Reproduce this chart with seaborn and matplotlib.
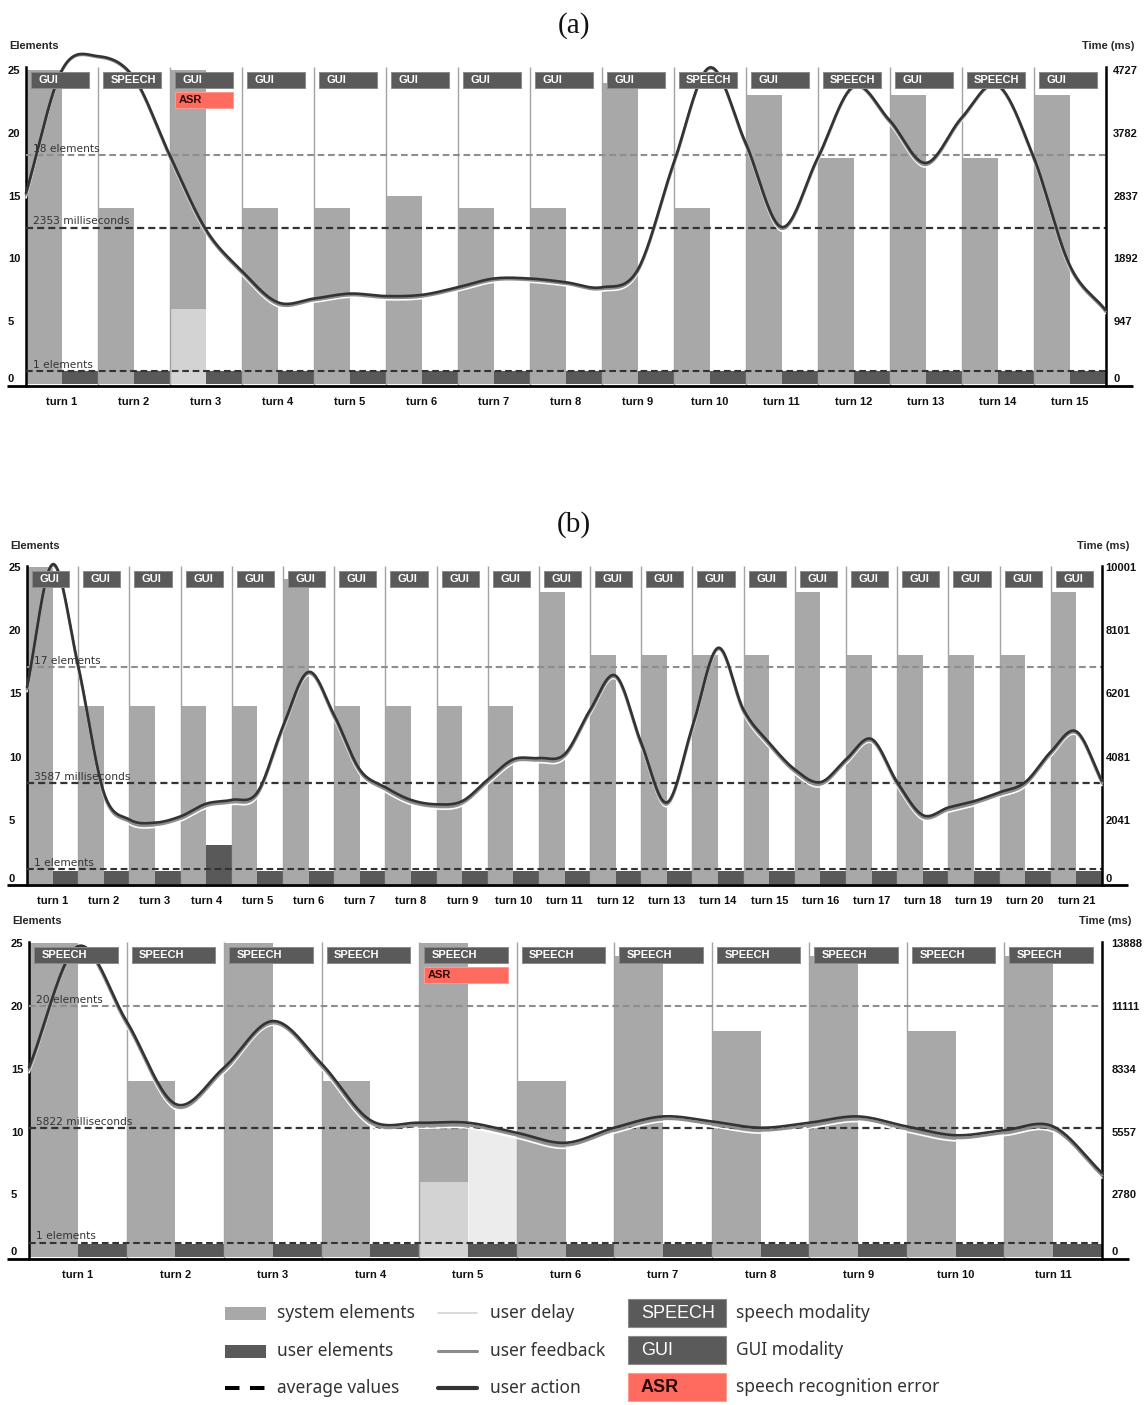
import numpy as np
import matplotlib
matplotlib.use("Agg")
import matplotlib.pyplot as plt
import seaborn as sns
from matplotlib.patches import Rectangle
from matplotlib import font_manager as fm

# ====================== DATA ======================
# ---- panel (a) ----
a_modality = ["GUI", "SPEECH", "GUI", "GUI", "GUI", "GUI", "GUI", "GUI", "GUI",
              "SPEECH", "GUI", "SPEECH", "GUI", "SPEECH", "GUI"]
a_asr_turns = [3]
a_fill_turns = []
a_system = [25, 14, 25, 14, 14, 15, 14, 14, 24, 14, 23, 18, 23, 18, 23]
a_system_light = [0, 0, 6, 0, 0, 0, 0, 0, 0, 0, 0, 0, 0, 0, 0]
a_user = [1, 1, 1, 1, 1, 1, 1, 1, 1, 1, 1, 1, 1, 1, 1]
# time curves (ms), sampled at every half turn (turn edges and centres)
a_action = [2874, 4727, 4935, 4614, 3441, 2326, 1702, 1229, 1286, 1361, 1324,
            1342, 1456, 1588, 1588, 1532, 1456, 1721, 3328, 4765, 3630, 2364,
            3403, 4481, 3971, 3328, 4008, 4500, 3422, 1796, 1116]
a_feedback = [2850, 4712, 4920, 4595, 3415, 2300, 1675, 1200, 1262, 1338, 1300,
              1318, 1432, 1565, 1566, 1510, 1432, 1695, 3300, 4750, 3605, 2338,
              3378, 4466, 3945, 3300, 3985, 4485, 3398, 1770, 1092]
a_delay = [2800, 4690, 4900, 4570, 3385, 2268, 1640, 1165, 1230, 1305, 1268,
           1285, 1398, 1530, 1532, 1478, 1398, 1660, 3265, 4730, 3575, 2300,
           3345, 4445, 3912, 3265, 3950, 4460, 3365, 1735, 1060]
a_time_ticks = ["0", "947", "1892", "2837", "3782", "4727"]
a_avg_elements, a_avg_elements_label = 18.2, "18 elements"
a_avg_time, a_avg_time_label = 2353, "2353 milliseconds"
a_avg_user, a_avg_user_label = 1.0, "1 elements"

# ---- panel (b) ----
b_modality = ["GUI"] * 21
b_asr_turns = []
b_fill_turns = []
b_system = [25, 14, 14, 14, 14, 24, 14, 14, 14, 14, 23, 18, 18, 18, 18, 23,
            18, 18, 18, 18, 23]
b_system_light = [0] * 21
b_user = [1, 1, 1, 3, 1, 1, 1, 1, 1, 1, 1, 1, 1, 1, 1, 1, 1, 1, 1, 1, 1]
b_action = [6201, 10081, 6881, 2880, 2020, 1920, 2120, 2520, 2640, 2880, 4960,
            6681, 5321, 3600, 3040, 2640, 2500, 2600, 3280, 3920, 3960, 4080,
            5481, 6561, 4440, 2560, 4960, 7441, 5481, 4440, 3600, 3200, 3920,
            4560, 3200, 2160, 2400, 2600, 2880, 3200, 4160, 4800, 3240]
b_feedback = [6140, 10040, 6820, 2810, 1950, 1850, 2050, 2450, 2570, 2810, 4890,
              6630, 5250, 3530, 2970, 2570, 2430, 2530, 3210, 3850, 3890, 4010,
              5410, 6510, 4370, 2500, 4890, 7400, 5410, 4370, 3530, 3130, 3850,
              4500, 3130, 2090, 2330, 2530, 2810, 3130, 4090, 4750, 3170]
b_delay = [6050, 9990, 6730, 2730, 1870, 1770, 1970, 2370, 2490, 2730, 4810,
           6570, 5170, 3450, 2890, 2490, 2350, 2450, 3130, 3770, 3810, 3930,
           5330, 6450, 4290, 2430, 4810, 7350, 5330, 4290, 3450, 3050, 3770,
           4440, 3050, 2010, 2250, 2450, 2730, 3050, 4010, 4690, 3090]
b_time_ticks = ["0", "2041", "4081", "6201", "8101", "10001"]
b_avg_elements, b_avg_elements_label = 17.1, "17 elements"
b_avg_time, b_avg_time_label = 3160, "3587 milliseconds"
b_avg_user, b_avg_user_label = 1.15, "1 elements"

# ---- panel (c) ----
c_modality = ["SPEECH"] * 11
c_asr_turns = [5]
c_fill_turns = [5]
c_system = [25, 14, 25, 14, 25, 14, 24, 18, 24, 18, 24]
c_system_light = [0, 0, 0, 0, 6, 0, 0, 0, 0, 0, 0]
c_user = [1, 1, 1, 1, 1, 1, 1, 1, 1, 1, 1]
c_action = [8388, 13750, 10444, 6777, 8388, 10444, 8555, 6055, 5944, 5944,
            5500, 5055, 5722, 6222, 6000, 5722, 5944, 6222, 5777, 5389, 5611,
            5777, 3722]
c_feedback = [8280, 13650, 10330, 6660, 8270, 10350, 8440, 5940, 5830, 5830,
              5390, 4940, 5605, 6110, 5885, 5605, 5830, 6110, 5660, 5270, 5495,
              5660, 3610]
c_delay = [8150, 13600, 10200, 6530, 8140, 10260, 8310, 5810, 5700, 5700,
           5260, 4810, 5480, 5990, 5760, 5480, 5700, 5990, 5530, 5140, 5370,
           5530, 3490]
c_time_ticks = ["0", "2780", "5557", "8334", "11111", "13888"]
c_avg_elements, c_avg_elements_label = 20.0, "20 elements"
c_avg_time, c_avg_time_label = 5710, "5822 milliseconds"
c_avg_user, c_avg_user_label = 1.15, "1 elements"

# legend texts
legend_left = ["system elements", "user elements", "average values"]
legend_mid = ["user delay", "user feedback", "user action"]
legend_right = [("SPEECH", "speech modality"), ("GUI", "GUI modality"),
                ("ASR", "speech recognition error")]

# ====================== STYLE ======================
sns.set_theme(style="white")
names = {f.name for f in fm.fontManager.ttflist}
SANS = "Liberation Sans" if "Liberation Sans" in names else "DejaVu Sans"
NARROW = "Liberation Sans Narrow" if "Liberation Sans Narrow" in names else None
SERIF = "Liberation Serif" if "Liberation Serif" in names else "DejaVu Serif"
LEG = "Noto Sans" if "Noto Sans" in names else "DejaVu Sans"
plt.rcParams["font.family"] = [SANS, "DejaVu Sans"]

SYS = "#a8a8a8"
USR = "#595959"
LIGHT = "#d3d3d3"
FILL = "#ececec"
SEP = "#a3a3a3"
BOX = "#5a5a5a"
ASRC = "#ff6b5e"
DARK = "#333333"
FEED = "#8c8c8c"

W, H = 1144, 1405
fig = plt.figure(figsize=(W / 100, H / 100), dpi=100, facecolor="white")


def smooth(xs, ys, per=24):
    xs = np.asarray(xs, float)
    ys = np.asarray(ys, float)
    m = np.empty_like(ys)
    m[1:-1] = (ys[2:] - ys[:-2]) / 2.0
    m[0] = ys[1] - ys[0]
    m[-1] = ys[-1] - ys[-2]
    s = np.linspace(0, 1, per, endpoint=False)
    h00 = 2 * s**3 - 3 * s**2 + 1
    h10 = s**3 - 2 * s**2 + s
    h01 = -2 * s**3 + 3 * s**2
    h11 = s**3 - s**2
    ox, oy = [], []
    for i in range(len(xs) - 1):
        ox.append(xs[i] + s * (xs[i + 1] - xs[i]))
        oy.append(h00 * ys[i] + h10 * m[i] + h01 * ys[i + 1] + h11 * m[i + 1])
    ox.append([xs[-1]])
    oy.append([ys[-1]])
    return np.concatenate(ox), np.concatenate(oy)


def draw_panel(spec, system, light, user, modality, asr_turns, fill_turns,
               action, feedback, delay, tticks, avg_el, avg_el_lab,
               avg_t, avg_t_lab, avg_u, avg_u_lab):
    L, R, zero, ppu, top = spec["L"], spec["R"], spec["zero"], spec["ppu"], spec["top"]
    n = len(system)
    tw = (R - L) / n
    ybot = -0.12
    bottom_px = zero - ybot * ppu
    height_px = (top - ybot) * ppu
    ax = fig.add_axes([L / W, 1 - bottom_px / H, (R - L) / W, height_px / H])
    ax.set_xlim(0, n)
    ax.set_ylim(ybot, top)
    tmax = float(tticks[-1])
    k = tmax / 25.0

    idx = np.arange(n)
    ax.bar(idx, system, width=0.5, align="edge", color=SYS, lw=0, zorder=2)
    ax.bar(idx, light, width=0.5, align="edge", color=LIGHT, lw=0, zorder=2.1)
    ax.bar(idx + 0.5, user, width=0.5, align="edge", color=USR, lw=0, zorder=2)
    ax.vlines(np.arange(1, n), ybot, top, color=SEP, lw=1.0, zorder=3)

    dash = (0, (3.2, 1.8))
    ax.axhline(avg_el, color="#8e8e8e", lw=1.5, ls=dash, zorder=3.5)
    ax.axhline(avg_u, color=DARK, lw=1.5, ls=dash, zorder=3.5)

    ax2 = ax.twinx()
    ax2.set_ylim(ybot * k, top * k)
    ax2.axhline(avg_t, color=DARK, lw=1.6, ls=dash, zorder=2)

    xs = np.arange(len(action)) * 0.5
    xd, yd_delay = smooth(xs, delay)
    _, yd_feed = smooth(xs, feedback)
    _, yd_act = smooth(xs, action)

    for t in fill_turns:
        msk = (xd >= t - 0.5 - 1e-9) & (xd <= t + 1e-9)
        ax.fill_between(xd[msk], 0, yd_delay[msk] / k, color=FILL, lw=0, zorder=1.9)

    sns.lineplot(x=xd, y=yd_delay, ax=ax2, color="white", lw=1.15, sort=False,
                 estimator=None, clip_on=False, zorder=3)
    sns.lineplot(x=xd, y=yd_feed, ax=ax2, color=FEED, lw=1.9, sort=False,
                 estimator=None, clip_on=False, zorder=3.1)
    sns.lineplot(x=xd, y=yd_act, ax=ax2, color=DARK, lw=1.9, sort=False,
                 estimator=None, clip_on=False, zorder=3.2)
    ax2.set_xlim(0, n)
    ax2.set_ylim(ybot * k, top * k)
    ax2.set_xlabel("")
    ax2.set_ylabel("")

    # average labels
    tx = 7.0 / tw
    lab_kw = dict(fontsize=7.7, color=DARK, family="DejaVu Sans", va="bottom",
                  ha="left", zorder=7, clip_on=False)
    ax2.text(tx, avg_el + 1.2 / ppu, avg_el_lab, transform=ax.transData, **lab_kw)
    ax2.text(tx, avg_u + 1.2 / ppu, avg_u_lab, transform=ax.transData, **lab_kw)
    ax2.text(tx, avg_t + 1.2 / ppu * k, avg_t_lab, **lab_kw)

    # modality boxes
    box_h = 16.0 / ppu
    for i, mod in enumerate(modality):
        x0 = i + 5.0 / tw
        x1 = i + 1 - 9.0 / tw
        y1 = top - 5.0 / ppu
        y0 = y1 - box_h
        ax2.add_patch(Rectangle((x0, y0), x1 - x0, box_h, transform=ax.transData,
                                facecolor=BOX, edgecolor="#8a8a8a", lw=0.7,
                                zorder=6, clip_on=False))
        ax2.text(x0 + 7.5 / tw, (y0 + y1) / 2, mod, transform=ax.transData,
                 color="white", fontsize=8, fontweight="bold", family=SANS,
                 va="center", ha="left", zorder=7, clip_on=False)
        if (i + 1) in asr_turns:
            ay1 = y0 - 4.0 / ppu
            ay0 = ay1 - 16.5 / ppu
            ax2.add_patch(Rectangle((x0, ay0), x1 - x0, ay1 - ay0,
                                    transform=ax.transData, facecolor=ASRC,
                                    edgecolor="#ff9a90", lw=0.7, zorder=6,
                                    clip_on=False))
            ax2.text(x0 + 4.0 / tw, (ay0 + ay1) / 2, "ASR", transform=ax.transData,
                     color="#2a0808", fontsize=8, fontweight="bold", family=SANS,
                     va="center", ha="left", zorder=7, clip_on=False)

    # spines
    for sp in ["top", "right", "bottom"]:
        ax.spines[sp].set_visible(False)
    ax.spines["left"].set_color("black")
    ax.spines["left"].set_linewidth(1.8)
    for sp in ["top", "left", "bottom"]:
        ax2.spines[sp].set_visible(False)
    ax2.spines["right"].set_color("black")
    ax2.spines["right"].set_linewidth(1.8)
    ax2.plot([-(L - 7.0) / tw, n + (spec["xend"] - R) / tw], [ybot, ybot],
             transform=ax.transData, color="black", lw=2.0, clip_on=False,
             zorder=8, solid_capstyle="butt")

    # ticks
    tick_kw = dict(fontsize=8, fontweight="bold", family=SANS, color="#111111")
    ax.set_yticks([0, 5, 10, 15, 20, 25])
    ax.set_yticklabels(["0", "5", "10", "15", "20", "25"], **tick_kw)
    ax.tick_params(axis="y", length=0, pad=13)
    for j, lab in enumerate(ax.get_yticklabels()):
        lab.set_horizontalalignment("left")
        if j == 0:
            lab.set_verticalalignment("bottom")
    ax2.set_yticks(np.linspace(0, tmax, 6))
    ax2.set_yticklabels(tticks, **tick_kw)
    ax2.tick_params(axis="y", length=0, pad=spec["rpad"])
    ax2.get_yticklabels()[0].set_verticalalignment("bottom")
    ax.set_xticks(idx + 0.5)
    ax.set_xticklabels([f"turn {i + 1}" for i in idx], **tick_kw)
    ax.tick_params(axis="x", length=0, pad=8)
    ax.set_xlabel("")
    ax.set_ylabel("")

    # axis titles
    fig.text(spec["ex"] / W, 1 - spec["ty"] / H, "Elements", fontsize=8,
             fontweight="bold", family=SANS, ha="left", va="center")
    fig.text(spec["tx"] / W, 1 - spec["ty"] / H, "Time (ms)", fontsize=8,
             fontweight="bold", family=SANS, ha="right", va="center")
    return ax, ax2


spec_a = dict(L=26, R=1105.5, zero=384.0, ppu=12.56, top=25.25, xend=1133,
              rpad=5.5, ex=9, tx=1134, ty=46)
spec_b = dict(L=27, R=1102, zero=883.5, ppu=12.67, top=25.05, xend=1128,
              rpad=2.5, ex=10, tx=1129, ty=546)
spec_c = dict(L=29, R=1102, zero=1257.0, ppu=12.55, top=25.1, xend=1129,
              rpad=7.0, ex=12, tx=1131, ty=921)

draw_panel(spec_a, a_system, a_system_light, a_user, a_modality, a_asr_turns,
           a_fill_turns, a_action, a_feedback, a_delay, a_time_ticks,
           a_avg_elements, a_avg_elements_label, a_avg_time, a_avg_time_label,
           a_avg_user, a_avg_user_label)
draw_panel(spec_b, b_system, b_system_light, b_user, b_modality, b_asr_turns,
           b_fill_turns, b_action, b_feedback, b_delay, b_time_ticks,
           b_avg_elements, b_avg_elements_label, b_avg_time, b_avg_time_label,
           b_avg_user, b_avg_user_label)
draw_panel(spec_c, c_system, c_system_light, c_user, c_modality, c_asr_turns,
           c_fill_turns, c_action, c_feedback, c_delay, c_time_ticks,
           c_avg_elements, c_avg_elements_label, c_avg_time, c_avg_time_label,
           c_avg_user, c_avg_user_label)

fig.text(574 / W, 1 - 25.5 / H, "(a)", ha="center", va="center", family=SERIF,
         fontsize=21, color="#111111")
fig.text(574 / W, 1 - 524.5 / H, "(b)", ha="center", va="center", family=SERIF,
         fontsize=21, color="#111111")

# ====================== LEGEND ======================
lg = fig.add_axes([0, 0, 1, 1])
lg.set_xlim(0, W)
lg.set_ylim(H, 0)
lg.axis("off")
lg.patch.set_visible(False)
rows = [1313, 1351, 1388]
ltxt = dict(fontsize=12.5, family=LEG, color=DARK, va="center", ha="left")
lg.add_patch(Rectangle((225, rows[0] - 6.5), 41, 13, facecolor=SYS, lw=0))
lg.add_patch(Rectangle((225, rows[1] - 6.5), 41, 13, facecolor=USR, lw=0))
lg.plot([225, 265], [rows[2], rows[2]], color="black", lw=2.9,
        ls=(0, (3.6, 2.6)), solid_capstyle="butt", dash_capstyle="butt")
for r, t in zip(rows, legend_left):
    lg.text(277, r, t, **ltxt)
lg.plot([438, 477], [rows[0], rows[0]], color="#cfcfcf", lw=1.1)
lg.plot([438, 477], [rows[1], rows[1]], color=FEED, lw=2.2)
lg.plot([438, 477], [rows[2], rows[2]], color=DARK, lw=3.0)
for r, t in zip(rows, legend_mid):
    lg.text(490, r, t, **ltxt)
box_font = dict(family=NARROW, fontsize=15.5) if NARROW else dict(family=SANS, fontsize=13)
for r, (code, desc) in zip([1313, 1350, 1387], legend_right):
    fc = ASRC if code == "ASR" else BOX
    ec = "#ff9a90" if code == "ASR" else "#8a8a8a"
    lg.add_patch(Rectangle((628, r - 14), 98, 28, facecolor=fc, edgecolor=ec, lw=0.8))
    lg.text(641, r + 0.5, code, color=("#2a0808" if code == "ASR" else "white"),
            va="center", ha="left", fontweight=("bold" if code == "ASR" else "normal"),
            **box_font)
    lg.text(736, r, desc, **ltxt)

fig.savefig("out.png", dpi=100, facecolor="white")
